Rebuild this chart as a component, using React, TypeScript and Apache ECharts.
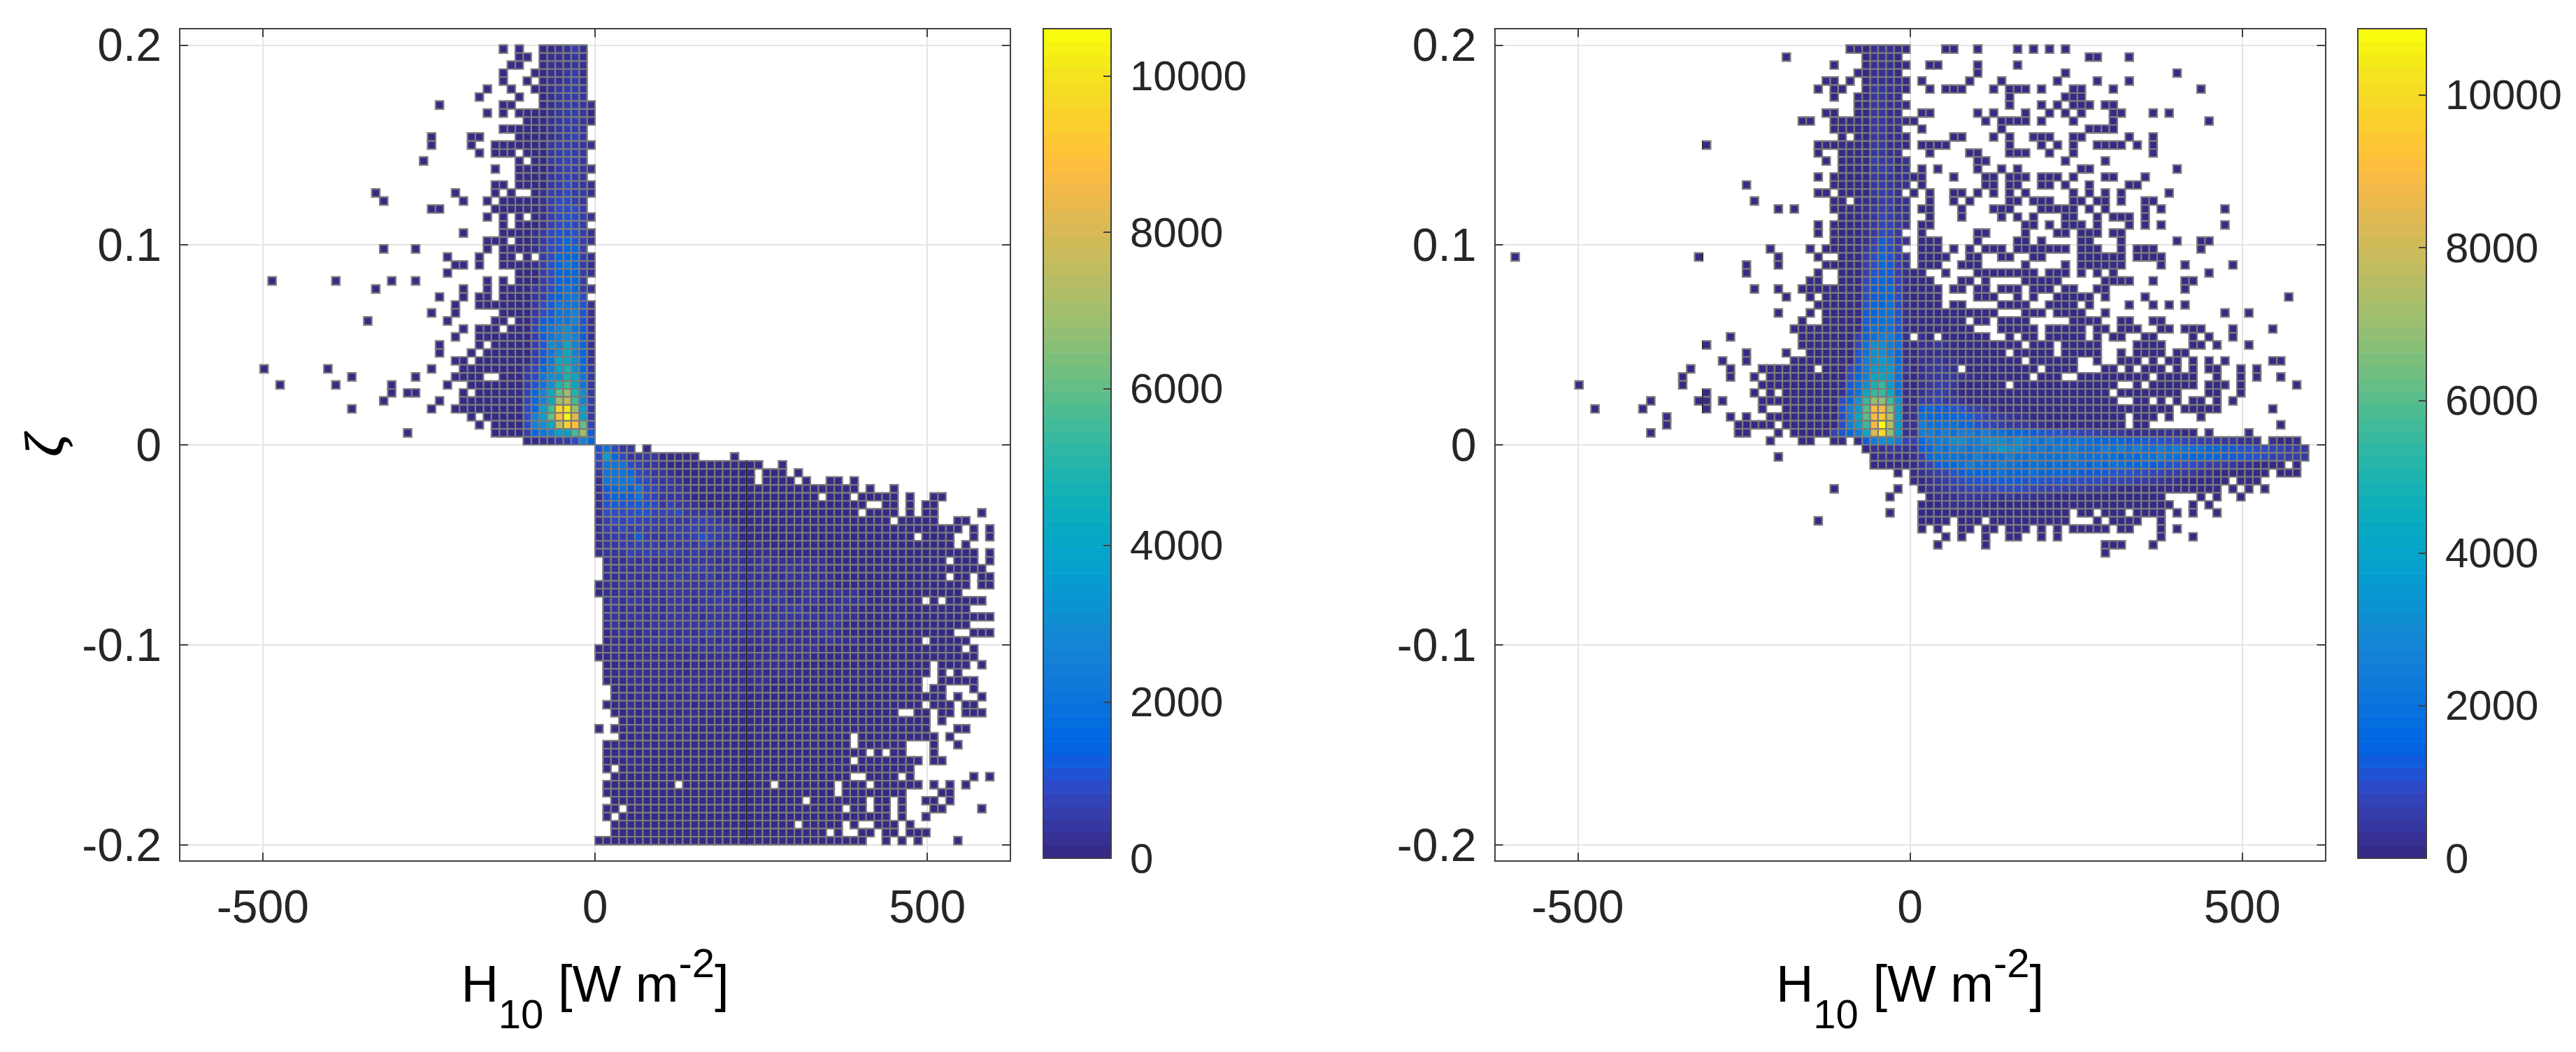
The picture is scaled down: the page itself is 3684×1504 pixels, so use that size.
import React, { useEffect, useRef } from "react";
import * as echarts from "echarts";

// ---------- axis content ----------
const xTicks = [-500, 0, 500];
const yTicks = [-0.2, -0.1, 0, 0.1, 0.2];
const cbTicks = [0, 2000, 4000, 6000, 8000, 10000];
const leftMax = 10602;
const rightMax = 10870;

// Count read for each level code in the grids below.
const levelValues: Record<string, number> = {
  "0": 80, "1": 250, "2": 420, "3": 590, "4": 760, "5": 930, "6": 1100, "7": 1300, "8": 1600, "9": 2000,
  a: 2500, b: 3100, c: 3700, d: 4300, e: 4900, f: 5500, g: 6100, h: 6800, i: 7500, j: 8200, k: 8900, l: 9500, m: 10100, n: 10600, p: 10860,
};

// Occupied bins: row r counted from zeta=+0.2 downward (0.004 wide), o = bins left of H=0, p = bins right of H=0 (12 wide)
const leftNeg = [
  "11 9 1-6", "9 8 1-6", "10 9 1-6", "11 7 1-6", "11 8 1-6", "13 10 7 1-6", "14 9 1-6", "19 11 10 0-6", "13 11 0-9", "0-8",
  "1-11", "20 15 14 1-9", "20 15 0-12", "14 10-12 1-8", "21 9 1-7", "12 0-9", "1-9", "12 11 0-9", "27 17 12 10 0-7", "26 16 13 1-11",
  "20 19 1-12", "13 11 9 0-7", "11 1-9", "16 0-11", "11-13 0-9", "26 22 13 1-11", "18 14 10 11 8 0-6", "16 17 14 0-11", "18 0-9", "40 32 25 22 13 11 1-9",
  "27 16 13 0-11", "19 16 13 14 1-11", "17 0-14", "20 17 0-11", "28 18 11 12 0-9", "16 12-14 0-10", "17 0-14", "19 14 0-12", "19 15 0-13", "16 17 0-14",
  "41 33 20 0-16", "30 22 14-17 0-11", "39 32 25 18 0-15", "25 22 23 16 0-14", "26 19 0-16", "30 20 0-17", "15 0-13", "14 0-12", "23 0-12", "0-8",
];
const leftPos = [
  "0-4 6", "0-12 17", "0-20 23", "0-19 21-23 25", "0-19 21-24 26 29 30 32", "0-32 34 37", "0-27 29-31 33-37 39 42 43", "0-33 36 37 39 41 42", "0-32 34-37 39 41 42 48", "0-36 38-42 45 46",
  "0-45 47 49", "0-39 41-44 47 49", "0-44 46", "0-47 49", "1-43 45-47 49", "1-48", "1-43 45 46 48 49", "0-46 48 49", "0-45", "1-40 42 44-48",
  "1-46", "1-49", "1-46", "1-44 47-49", "1-40 42-46", "0-45 47", "0-47", "1-41 43-46 48", "1-41 43 45", "1-40 43-47",
  "2-40 42 43 47", "2-43 45 48", "1-40 42-44 46 47", "2-37 40 41 43 44 46-48", "3-41 43", "0 2-41 45 46", "3-31 33-42 44", "1-31 33-38 42 45", "1-33 35 37 38 42", "1-31 33-40 42 43",
  "1 3-39", "2-31 34-37 39 47 49", "1-9 11-21 23-29 31-33 35-40 42 44 46", "1-29 31-38 43 44", "2-25 27-33 35 36 38 41 42 44", "1 2 4-30 32 33 35 36 38 42 43 48", "1 3-36 38 41", "2-24 26-30 32 35-37 39", "2-28 30 33 34 36 37 39-41", "0-33 36 38 40 45",
];
const rightNeg = [
  "0-7", "15 1-5", "9 0-5", "6 1-5", "10 9 7 0-5", "11 9 8 0-5", "9 1-6", "0-6", "10 9 1-6", "13 12 0-9",
  "1-9", "8 0-6", "25 0-11", "11 1-8", "10 0-8", "0-8", "11 0-9", "20 9 0-8", "11 10 1-8", "19 9 8 0-6",
  "16 14 9 0-8", "0-8", "11 0-9", "11 1-9", "0-9", "17 12 1-10", "49 26 16 11 0-8", "20 16 0-10", "20 11 0-8", "12 11 0-8",
  "19 16 10-13 0-9", "15 12 0-10", "0-11", "16 12 10 0-9", "13 0-10", "0-14", "22 0-13", "25 13 0-12", "20 15 0-12", "23 20 0-14",
  "27 22 12-18 0-10", "28 22 19 0-17", "41 28 0-18", "25 19 17 0-15", "32 26 25 23 0-18", "39 33 25 18 0-15", "30 22 20 0-17", "30 17-21 0-15", "32 21 20 16 0-14", "17 13 12 9 8 0-6",
  "0-5", "16 0-4", "0-4", "1", "", "9 1", "2", "", "2", "11",
];
const rightPos = [
  "4 5 8 13 15 17 19", "22 23 27", "2 3 8 13", "8 19 33", "1 7 11 18 23 27", "2 4-6 10 12-14 16 20 21 25 36", "12 19-21", "12 16 18 20-22 24 25", "1 2 8 10 14 17 19 21 25 26 30 32", "0 9 11-14 16 20 25 37",
  "1 11 22-25", "5 6 10 12 15-17 20 21 27 30", "1-4 12 16 18 20 23-26 28 30", "2 7 8 12-14 17 20 30", "8 9 19 24", "1 3 8 11 13 21 22 33", "0 1 5 9 10 12-14 16-18 20 24 25 29", "1 9 10 12 13 16 17 19 22 27 28", "0 2 5 6 8 10 12 14 20 22 24 26 32", "2 5 7 12 13 15-17 20 21 23 24 26 29 30",
  "1 2 6 10-12 16-20 22 24 29 31 39", "2 6 11 13 15 19 20 23 25-27 29", "1 2 14 15 17 19-21 23 27 29 31 39", "1 8 9 14 18 19 21-23 25 26", "1-3 8 13 14 16 21 22 26 33 36 37", "1-3 5 7 9-11 13-19 21-23 26 28-30 36", "1-4 7 8 11 12 15 16 21-26 28-31", "1-3 6-8 14 19 21-26 31 34 40", "0 1 4 8-15 17-19 21 23 25 37", "0-2 6 7 9 14-18 24-27 30 34 35",
  "0-3 5 6 8 9 11-13 15-17 19 20 23 24 34", "0-3 8-10 13 15 18-22 24 29 47", "0-3 5 6 11-14 17-20 22 27 30 32 34", "0-10 14-16 18-21 24 39 42", "0-6 8 9 11-14 20-23 26 27 30 31", "0-7 11-15 17-21 23 24 26-28 31 32 34-36 40 45", "1 2 4-9 12 14 15 17-21 23 25 26 29 30 35 37 40", "0-11 12 13 15-17 19-23 28-31 35 36 38 42", "0-11 13-17 19-23 26 28-31 33 34", "0-13 15-20 23 26-28 30 32 33 35 37 39 45 46",
  "0-5 7-15 17-20 24 25 27 29-31 33 35 37 38 41 43", "0-14 16-18 21-29 31-35 38 41 43 46", "0-11 13-25 28 30-35 37-39 41 48", "0-24 26-33 37 38 41", "0-25 28 29 31 33 35 36 38 40", "0-32 34-38 45", "0-26 28-30 32 36", "0-26 28 29 46", "0-35 37 42", "0-43 45-48",
  "0-49", "0-49", "0-46 48", "0-44 46-48", "0-39 41-43", "1-38 40 42 44", "2-31 36 38 41", "1-32 35 37", "1-19 21 22 24-26 28-31 33 35 38", "1-4 6-8 10-19 23 25-28 31",
  "1 3 6 7 9 10 12-14 16 18 20-24 26 27 31 33", "4 6 9 12 13 16 18 31 35", "3 9 24-26 30", "24",
];

const leftCoreNeg = [
  "013110", "012111", "012111", "013211", "013211", "023321", "023321", "123321", "023321", "023321",
  "023321", "124321", "123332", "123432", "123432", "123431", "123432", "123532", "1335331", "1235531",
  "1355531", "1356531", "1356531", "13666521", "13686521", "13886531", "13888531", "13898631", "1388853", "1388853",
  "13898532", "15998732", "16999752", "16a99752", "16a99873", "179ba984", "17aba973", "18adab63", "18adb973", "18bdd973",
  "28beda842", "29debb953", "29dfeb963", "2behgda84", "3afihda84", "2chmlfc85", "2cjnkgca5", "4gklidba5", "7hfcca983", "8a5321100",
];
const leftCorePos = [
  "69522", "5c852222", "499954221", "2999854221", "19999653221", "178979542221", "168779542221", "1676676524221", "1555566444522221", "13545443332234321",
  "133534332333433322", "123337322333464322", "122334332323243222111", "12224343433232222211111", "01112121121222211211121111111", "01121221212233221221211121111", "011121122232223122121211212111", "011221212222222322221121112211", "011212121222222232222222112211212", "0121221212221223212221321122111212",
  "012111121221222222222212231111211", "012122121222212222221222222212211", "0121121222222232222223222111222", "0012102122121232212211221111221", "001101122122212121111111111112111", "0011111111111212211101121112", "001101111111111111111111111", "00010111111010111111111110", "0001111111101111111110111", "0000111110111111101111",
  "000001011111111011101", "0001011101011111011", "0000101011110101101", "0000101101011010", "000000101011100", "00000010101000", "0000010011010", "000100101000", "0001001", "00001",
  "0", "0", "0", "0", "0", "0", "0", "0", "0", "0",
];
const rightCoreNeg = [
  "001110", "001110", "001110", "001110", "001110", "011220", "011220", "011220", "011220", "011220",
  "011220", "011220", "011220", "011220", "102230", "102320", "112220", "112320", "113320", "113311",
  "113321", "123421", "124421", "124521", "125731", "135742", "136853", "137853", "137763", "147874",
  "148875", "158875", "159886", "169987", "169987", "169997", "18aa973", "19abb94", "18abb96", "18bcba6",
  "29ccca74", "19cdda85", "19cfeb971", "19dffd971", "1bfhhfb85", "1chkkgca6", "1cilkgda5", "2cipkfca5", "1chmjda864", "4abba70",
  "12211", "0111",
];
const rightCorePos = [
  "", "", "", "", "", "", "", "", "", "",
  "", "", "", "", "", "", "", "", "", "",
  "", "", "", "", "", "", "", "", "", "",
  "", "", "", "", "", "", "0101", "01121", "01111", "011211",
  "0122211", "01222211", "012332", "013331", "0334221", "17877664321", "198888875432211", "1a999988654322211", "1aa9a9aa9a998887766554433221111111", "48aaabbaabbbabaa9a9999988887776655443322211111",
  "178a9aa9aabcbba9a9a9a999a9a9a99a9a999887766554433211", "13899999a999a99a9999a9999989899a9988888777665443322211", "0247889a999a9989989899898998887766554332211", "01234678888988898888877776665544332211", "0012345666777767666655554444332211", "00112334444555544343332221", "000111222221212111", "000011111",
];
// Thin dark strokes present in the picture: [H, zeta from, zeta to]
const leftStrokes = [[228, -0.008, -0.2]];
const rightStrokes = [[-312, 0.152, 0.148], [-312, 0.096, 0.092], [-312, 0.052, 0.048], [-312, 0.028, 0.016]];

const parula = [
  [0.2081,0.1663,0.5292],[0.2116,0.1898,0.5777],[0.2123,0.2138,0.627],[0.2081,0.2386,0.6771],[0.1959,0.2645,0.7279],[0.1707,0.2919,0.7792],[0.1253,0.3242,0.8303],[0.0591,0.3598,0.8683],
  [0.0117,0.3875,0.882],[0.006,0.4086,0.8828],[0.0165,0.4266,0.8786],[0.0329,0.443,0.872],[0.0498,0.4586,0.8641],[0.0629,0.4737,0.8554],[0.0723,0.4887,0.8467],[0.0779,0.504,0.8384],
  [0.0793,0.52,0.8312],[0.0749,0.5375,0.8263],[0.0641,0.557,0.824],[0.0488,0.5772,0.8228],[0.0343,0.5966,0.8199],[0.0265,0.6137,0.8135],[0.0239,0.6287,0.8038],[0.0231,0.6418,0.7913],
  [0.0228,0.6535,0.7768],[0.0267,0.6642,0.7607],[0.0384,0.6743,0.7436],[0.059,0.6838,0.7254],[0.0843,0.6928,0.7062],[0.1133,0.7015,0.6859],[0.1453,0.7098,0.6646],[0.1801,0.7177,0.6424],
  [0.2178,0.725,0.6193],[0.2586,0.7317,0.5954],[0.3022,0.7376,0.5712],[0.3482,0.7424,0.5473],[0.3953,0.7459,0.5244],[0.442,0.7481,0.5033],[0.4871,0.7491,0.484],[0.53,0.7491,0.4661],
  [0.5709,0.7485,0.4494],[0.6099,0.7473,0.4337],[0.6473,0.7456,0.4188],[0.6834,0.7435,0.4044],[0.7184,0.7411,0.3905],[0.7525,0.7384,0.3768],[0.7858,0.7356,0.3633],[0.8185,0.7327,0.3498],
  [0.8507,0.7299,0.336],[0.8824,0.7274,0.3217],[0.9139,0.7258,0.3063],[0.945,0.7261,0.2886],[0.9739,0.7314,0.2666],[0.9938,0.7455,0.2403],[0.999,0.7653,0.2164],[0.9955,0.7861,0.1967],
  [0.988,0.8066,0.1794],[0.9789,0.8271,0.1633],[0.9697,0.8481,0.1475],[0.9626,0.8705,0.1309],[0.9589,0.8949,0.1132],[0.9598,0.9218,0.0948],[0.9661,0.9514,0.0755],[0.9763,0.9831,0.0538],
].map((c) => `rgb(${c.map((v) => Math.round(v * 255)).join(",")})`);

const bandColor = (v: number, max: number) => parula[Math.min(63, Math.floor((v / max) * 64))];

function offsets(spec: string): number[] {
  const out: number[] = [];
  spec.split(" ").filter(Boolean).forEach((t) => {
    const [a, b] = t.split("-").map(Number);
    for (let i = a; i <= (b === undefined ? a : b); i++) out.push(i);
  });
  return out;
}

function buildCells(neg: string[], pos: string[], coreNeg: string[], corePos: string[], posStart: number) {
  const cells: number[][] = [];
  const zeta = (r: number) => 0.2 - 0.004 * (r + 0.5);
  neg.forEach((spec, r) =>
    offsets(spec).forEach((o) => cells.push([-12 * o - 6, zeta(r), levelValues[(coreNeg[r] || "")[o] || "0"]]))
  );
  pos.forEach((spec, i) =>
    offsets(spec).forEach((p) => cells.push([12 * p + 6, zeta(i + posStart), levelValues[(corePos[i] || "")[p] || "0"]]))
  );
  return cells;
}

const FONT = "'Liberation Sans', Arial, sans-serif";
const INK = "#262626";
const BOX = "#404040";
const GRID_SIZE = { top: 41, height: 1190, width: 1188 };
const CB_SIZE = { top: 41, height: 1186 };
const tickStyle = { show: true, inside: true, length: 12, lineStyle: { color: BOX, width: 2 } };

function mainAxes(gridIndex: number) {
  const xRange = { min: -625, max: 625 };
  const yRange = { min: -0.2082, max: 0.2082 };
  const x = [
    {
      type: "value", gridIndex, position: "bottom", ...xRange,
      axisLine: { show: true, onZero: false, lineStyle: { color: BOX, width: 2 } },
      axisTick: { ...tickStyle, customValues: xTicks },
      axisLabel: { customValues: xTicks, margin: 32, fontSize: 66, fontFamily: FONT, color: INK, verticalAlign: "top", formatter: (v: number) => String(v) },
      splitLine: { show: true, lineStyle: { color: "#e4e4e4", width: 2 } },
      nameLocation: "middle", nameGap: 103,
      name: "{h|H}{sub|10}{r| [W m}{sup|-2}{r|]}",
      nameTextStyle: {
        color: "#000", fontFamily: FONT, verticalAlign: "top",
        rich: {
          h: { fontSize: 74, fontFamily: FONT, color: "#000" },
          r: { fontSize: 74, fontFamily: FONT, color: "#000" },
          sub: { fontSize: 58, fontFamily: FONT, color: "#000", padding: [86, 0, 0, 0] },
          sup: { fontSize: 58, fontFamily: FONT, color: "#000", padding: [0, 0, 60, 0] },
        },
      },
    },
    {
      type: "value", gridIndex, position: "top", ...xRange,
      axisLine: { show: true, onZero: false, lineStyle: { color: BOX, width: 2 } },
      axisTick: { ...tickStyle, customValues: xTicks },
      axisLabel: { show: false }, splitLine: { show: false },
    },
  ];
  const y = [
    {
      type: "value", gridIndex, position: "left", ...yRange,
      axisLine: { show: true, onZero: false, lineStyle: { color: BOX, width: 2 } },
      axisTick: { ...tickStyle, customValues: yTicks },
      axisLabel: { customValues: yTicks, margin: 26, fontSize: 66, fontFamily: FONT, color: INK, formatter: (v: number) => String(Math.round(v * 10) / 10) },
      splitLine: { show: true, lineStyle: { color: "#e4e4e4", width: 2 } },
    },
    {
      type: "value", gridIndex, position: "right", ...yRange,
      axisLine: { show: true, onZero: false, lineStyle: { color: BOX, width: 2 } },
      axisTick: { ...tickStyle, customValues: yTicks },
      axisLabel: { show: false }, splitLine: { show: false },
    },
  ];
  return { x, y };
}

function cbAxes(gridIndex: number, max: number) {
  const line = { show: true, onZero: false, lineStyle: { color: BOX, width: 2 } };
  const off = { axisTick: { show: false }, axisLabel: { show: false }, splitLine: { show: false } };
  return {
    x: [
      { type: "value", gridIndex, position: "bottom", min: 0, max: 1, z: 5, axisLine: line, ...off },
      { type: "value", gridIndex, position: "top", min: 0, max: 1, z: 5, axisLine: line, ...off },
    ],
    y: [
      {
        type: "value", gridIndex, position: "right", min: 0, max, z: 5, axisLine: line,
        axisTick: { show: true, inside: true, length: 11, lineStyle: { color: BOX, width: 2 }, customValues: cbTicks },
        axisLabel: { customValues: cbTicks, margin: 27, fontSize: 60, padding: [4, 0, 0, 0], fontFamily: FONT, color: INK, formatter: (v: number) => String(v) },
        splitLine: { show: false },
      },
      { type: "value", gridIndex, position: "left", min: 0, max, z: 5, axisLine: line, ...off },
    ],
  };
}

function cellSeries(cells: number[][], max: number, xAxisIndex: number, yAxisIndex: number) {
  return {
    type: "custom", coordinateSystem: "cartesian2d", xAxisIndex, yAxisIndex, silent: true, progressive: 0, clip: false,
    data: cells,
    encode: { x: 0, y: 1 },
    renderItem: (_p: any, api: any) => {
      const h = api.value(0), z = api.value(1), v = api.value(2);
      const a = api.coord([h - 6, z + 0.002]);
      const b = api.coord([h + 6, z - 0.002]);
      return {
        type: "rect",
        shape: { x: a[0], y: a[1], width: b[0] - a[0], height: b[1] - a[1] },
        style: { fill: bandColor(v, max), stroke: "#7c7c7c", lineWidth: 2.2 },
      };
    },
  };
}

function strokeSeries(strokes: number[][], xAxisIndex: number, yAxisIndex: number) {
  return {
    type: "custom", coordinateSystem: "cartesian2d", xAxisIndex, yAxisIndex, silent: true, z: 3,
    data: strokes,
    encode: { x: 0, y: [1, 2] },
    renderItem: (_p: any, api: any) => {
      const a = api.coord([api.value(0), api.value(1)]);
      const b = api.coord([api.value(0), api.value(2)]);
      return { type: "line", shape: { x1: a[0], y1: a[1], x2: b[0], y2: b[1] }, style: { stroke: "#1a1a2a", lineWidth: 1.6 } };
    },
  };
}

function barSeries(max: number, xAxisIndex: number, yAxisIndex: number) {
  const bands = parula.map((_, i) => [i, (i * max) / 64, ((i + 1) * max) / 64]);
  return {
    type: "custom", coordinateSystem: "cartesian2d", xAxisIndex, yAxisIndex, silent: true, progressive: 0, z: 2,
    data: bands,
    encode: { y: [1, 2] },
    renderItem: (_p: any, api: any) => {
      const a = api.coord([0, api.value(2)]);
      const b = api.coord([1, api.value(1)]);
      return {
        type: "rect",
        shape: { x: a[0], y: a[1], width: b[0] - a[0], height: b[1] - a[1] + 0.5 },
        style: { fill: parula[api.value(0)] },
      };
    },
  };
}

export default function App() {
  const ref = useRef<HTMLDivElement>(null);
  useEffect(() => {
    document.body.style.margin = "0";
    const chart = echarts.init(ref.current!, undefined, { renderer: "svg" });
    const a = mainAxes(0);
    const b = mainAxes(1);
    const c = cbAxes(2, leftMax);
    const d = cbAxes(3, rightMax);
    chart.setOption({
      animation: false,
      backgroundColor: "#fff",
      grid: [
        { left: 257, ...GRID_SIZE },
        { left: 2137.5, ...GRID_SIZE },
        { left: 1492, width: 97, ...CB_SIZE },
        { left: 3372, width: 98, ...CB_SIZE },
      ],
      xAxis: [...a.x, ...b.x, ...c.x, ...d.x],
      yAxis: [...a.y, ...b.y, ...c.y, ...d.y],
      graphic: [
        {
          type: "text", x: 63, y: 637, rotation: Math.PI / 2,
          style: { text: "ζ", font: "italic 78px 'Liberation Serif', serif", fill: "#000", stroke: "#000", lineWidth: 1.2, textAlign: "center", textVerticalAlign: "middle" },
        },
      ],
      series: [
        cellSeries(buildCells(leftNeg, leftPos, leftCoreNeg, leftCorePos, 50), leftMax, 0, 0),
        strokeSeries(leftStrokes, 0, 0),
        cellSeries(buildCells(rightNeg, rightPos, rightCoreNeg, rightCorePos, 0), rightMax, 2, 2),
        strokeSeries(rightStrokes, 2, 2),
        barSeries(leftMax, 4, 4),
        barSeries(rightMax, 6, 6),
      ],
    });
    return () => chart.dispose();
  }, []);
  return <div ref={ref} style={{ position: "absolute", left: 0, top: 0, width: 3684, height: 1504 }} />;
}
